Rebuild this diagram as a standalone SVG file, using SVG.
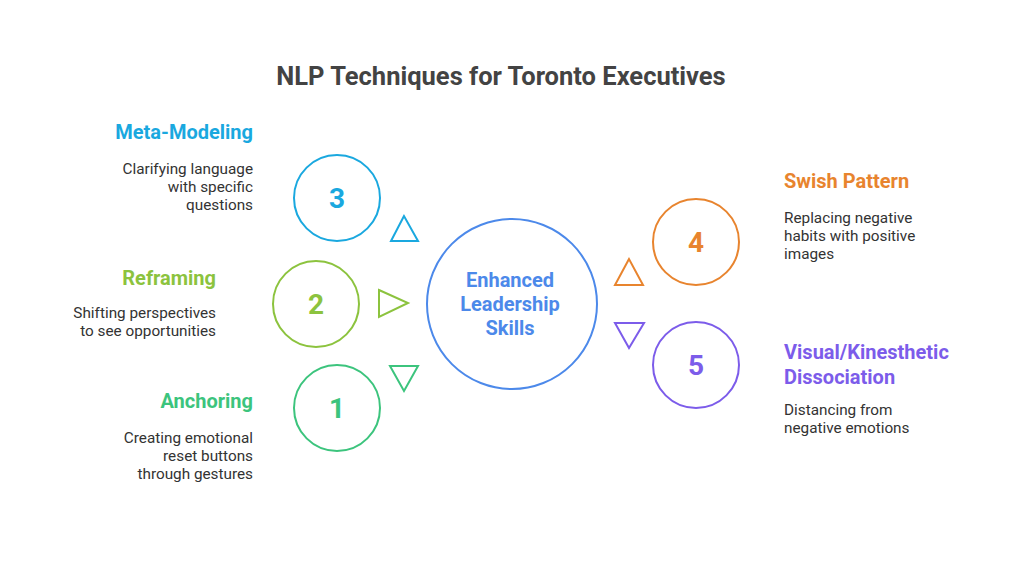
<svg xmlns="http://www.w3.org/2000/svg" width="1024" height="576" viewBox="0 0 1024 576">
<style>
text{font-family:Roboto,"Liberation Sans",sans-serif}
.t{font-size:25.5px;font-weight:700;fill:#434343}
.h{font-size:20px;font-weight:700}
.d{font-size:15.3px;fill:#333}
.n{font-size:28px;font-weight:700}
.c{fill:none;stroke-width:2}
.tri{fill:none;stroke-width:2;stroke-linejoin:miter}
.cy{fill:#1AA8DF;stroke:#1AA8DF}
.lg{fill:#8CC33E;stroke:#8CC33E}
.gr{fill:#3CC47D;stroke:#3CC47D}
.or{fill:#E8842E;stroke:#E8842E}
.pu{fill:#7C5CEA;stroke:#7C5CEA}
.bl{fill:#4C89EA;stroke:#4C89EA}
text.cy,text.lg,text.gr,text.or,text.pu,text.bl{stroke:none}
</style>
<rect width="1024" height="576" fill="#fff"/>
<text class="t" x="501" y="85" text-anchor="middle">NLP Techniques for Toronto Executives</text>

<g id="connectors">
<polygon class="tri cy" style="fill:none" points="404,216 391,241 418,241"/>
<polygon class="tri lg" style="fill:none" points="379,290 408,303 379,317"/>
<polygon class="tri gr" style="fill:none" points="390,366 418,366 404,391"/>
<polygon class="tri or" style="fill:none" points="629,259 615,285 643,285"/>
<polygon class="tri pu" style="fill:none" points="615,323 644,323 629,348"/>
</g>

<g id="center">
<circle class="c bl" style="fill:none" cx="512" cy="304" r="85"/>
<text class="h bl" x="510" y="287" text-anchor="middle">Enhanced</text>
<text class="h bl" x="510" y="311" text-anchor="middle">Leadership</text>
<text class="h bl" x="510" y="335" text-anchor="middle">Skills</text>
</g>

<g id="node3">
<circle class="c cy" style="fill:none" cx="337" cy="198" r="43"/>
<text class="n cy" x="337" y="208" text-anchor="middle">3</text>
<text class="h cy" x="253" y="139" text-anchor="end">Meta-Modeling</text>
<text class="d" x="253" y="174" text-anchor="end">Clarifying language</text>
<text class="d" x="253" y="192" text-anchor="end">with specific</text>
<text class="d" x="253" y="210" text-anchor="end">questions</text>
</g>

<g id="node2">
<circle class="c lg" style="fill:none" cx="316" cy="304" r="43"/>
<text class="n lg" x="316" y="314" text-anchor="middle">2</text>
<text class="h lg" x="216" y="285" text-anchor="end">Reframing</text>
<text class="d" x="216" y="318" text-anchor="end">Shifting perspectives</text>
<text class="d" x="216" y="336" text-anchor="end">to see opportunities</text>
</g>

<g id="node1">
<circle class="c gr" style="fill:none" cx="337" cy="408" r="43"/>
<text class="n gr" x="337" y="418" text-anchor="middle">1</text>
<text class="h gr" x="253" y="408" text-anchor="end">Anchoring</text>
<text class="d" x="253" y="443" text-anchor="end">Creating emotional</text>
<text class="d" x="253" y="461" text-anchor="end">reset buttons</text>
<text class="d" x="253" y="479" text-anchor="end">through gestures</text>
</g>

<g id="node4">
<circle class="c or" style="fill:none" cx="696" cy="242" r="43"/>
<text class="n or" x="696" y="252" text-anchor="middle">4</text>
<text class="h or" x="784" y="188" text-anchor="start">Swish Pattern</text>
<text class="d" x="784" y="223">Replacing negative</text>
<text class="d" x="784" y="241">habits with positive</text>
<text class="d" x="784" y="259">images</text>
</g>

<g id="node5">
<circle class="c pu" style="fill:none" cx="696" cy="365" r="43"/>
<text class="n pu" x="696" y="375" text-anchor="middle">5</text>
<text class="h pu" x="784" y="359">Visual/Kinesthetic</text>
<text class="h pu" x="784" y="384">Dissociation</text>
<text class="d" x="784" y="415">Distancing from</text>
<text class="d" x="784" y="433">negative emotions</text>
</g>
</svg>
